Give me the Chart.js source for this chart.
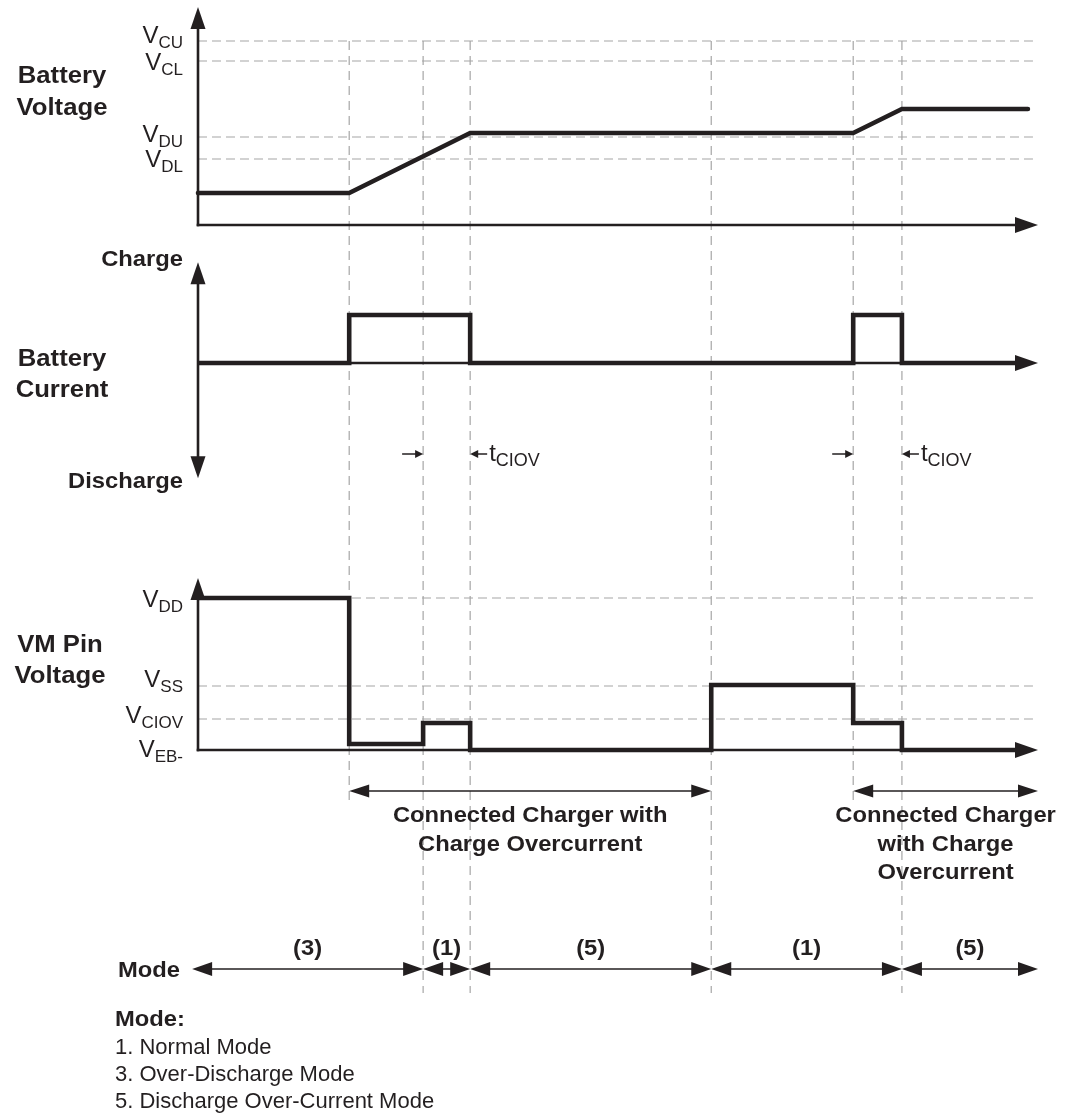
<!DOCTYPE html>
<html>
<head>
<meta charset="utf-8">
<script src="https://cdn.jsdelivr.net/npm/chart.js@4.4.1/dist/chart.umd.min.js"></script>
<style>
  html, body { margin: 0; padding: 0; background: #ffffff; }
  #wrap { position: relative; width: 1065px; height: 1120px; }
  canvas { display: block; }
</style>
</head>
<body>
<div id="wrap"><canvas id="c" width="1065" height="1120" style="width:1065px;height:1120px"></canvas></div>
<script>
// ---------------- DATA (time in arbitrary units along the shared x axis) ----------------
const eventTimes = [18.0, 26.8, 32.4, 61.1, 78.0, 83.8];

// Battery voltage (arbitrary level units)
const batteryVoltageTimes  = [0, 18.0, 32.4, 78.0, 83.8, 98.8];
const batteryVoltageValues = [1.6, 1.6, 4.6, 4.6, 5.8, 5.8];
const batteryVoltageLevels = [9.2, 8.2, 4.4, 3.3];
const batteryVoltageLevelMain = ['V', 'V', 'V', 'V'];
const batteryVoltageLevelSub  = ['CU', 'CL', 'DU', 'DL'];

// Battery current (charge positive, discharge negative)
const batteryCurrentTimes  = [0, 18.0, 32.4, 78.0, 83.8, 97.5];
const batteryCurrentValues = [0, 1, 0, 1, 0, 0];

// VM pin voltage
const vmTimes  = [0, 18.0, 26.8, 32.4, 61.1, 78.0, 83.8, 97.5];
const vmValues = [7.6, 0.3, 1.35, 0, 3.25, 1.35, 0, 0];
const vmLevels = [7.6, 3.2, 1.55, 0];
const vmLevelMain = ['V', 'V', 'V', 'V'];
const vmLevelSub  = ['DD', 'SS', 'CIOV', 'EB-'];

// Annotations
const tciovStarts = [26.8, 78.0];
const tciovEnds   = [32.4, 83.8];
const chargerStarts = [18.0, 78.0];
const chargerEnds   = [61.1, 100];
const chargerText = [
  ['Connected Charger with', 'Charge Overcurrent'],
  ['Connected Charger', 'with Charge', 'Overcurrent']
];
const modeBounds = [-0.7, 26.8, 32.4, 61.1, 83.8, 100];
const modeLabels = ['(3)', '(1)', '(5)', '(1)', '(5)'];
const modeLegendTitle = 'Mode:';
const modeLegend = ['1. Normal Mode', '3. Over-Discharge Mode', '5. Discharge Over-Current Mode'];

// ---------------- LAYOUT / STYLE ----------------
const FONT = '"Liberation Sans", Arial, Helvetica, sans-serif';
const INK = '#231f20';
const GRID = '#a6a6a6';
const H = 1120;
const L = {
  volt: { zeroPx: 225, ppu: 20, arrowTop: 10.9 },
  curr: { zeroPx: 363, ppu: 48, arrowTop: 2.1, arrowBottom: -2.4 },
  vm:   { zeroPx: 750, ppu: 20, arrowTop: 8.6 },
  xMax: 100, levelLineEnd: 99.4,
  labelRight: 183, titleCenter: 62,
  voltLabelDy: [2, 9, 5, 8],
  vmLabelDy: [9, 1, 4, 7],
  tciovY: 454,
  chargerY: 791, chargerLineEnd: 803,
  modeY: 969, modeLineEnd: 993,
  sx: 1.0, bsx: 1.08
};
function rangeFor(p) { return { min: (p.zeroPx - H) / p.ppu, max: p.zeroPx / p.ppu }; }

function seg(ctx, x1, y1, x2, y2) { ctx.beginPath(); ctx.moveTo(x1, y1); ctx.lineTo(x2, y2); ctx.stroke(); }
function head(ctx, tx, ty, dx, dy, len, half) {
  const bx = tx - dx * len, by = ty - dy * len;
  const nx = -dy, ny = dx;
  ctx.beginPath();
  ctx.moveTo(tx, ty);
  ctx.lineTo(bx + nx * half, by + ny * half);
  ctx.lineTo(bx - nx * half, by - ny * half);
  ctx.closePath();
  ctx.fill();
}
function txt(ctx, s, x, y, size, weight, align, sx) {
  ctx.save();
  ctx.font = `${weight} ${size}px ${FONT}`;
  ctx.textAlign = align;
  ctx.textBaseline = 'alphabetic';
  ctx.translate(x, y);
  ctx.scale(sx, 1);
  ctx.fillText(s, 0, 0);
  ctx.restore();
}
function width(ctx, s, size, weight, sx) {
  ctx.save(); ctx.font = `${weight} ${size}px ${FONT}`;
  const w = ctx.measureText(s).width * sx; ctx.restore(); return w;
}
// main letter + subscript, right aligned at xr, main baseline yb
function subRight(ctx, main, sub, xr, yb, ms, ss) {
  const ws = width(ctx, sub, ss, 'normal', L.sx);
  txt(ctx, sub, xr, yb + 5, ss, 'normal', 'right', L.sx);
  txt(ctx, main, xr - ws, yb, ms, 'normal', 'right', L.sx);
}
function subLeft(ctx, main, sub, xl, yb, ms, ss) {
  const wm = width(ctx, main, ms, 'normal', L.sx);
  txt(ctx, main, xl, yb, ms, 'normal', 'left', L.sx);
  txt(ctx, sub, xl + wm, yb + 5, ss, 'normal', 'left', L.sx);
}

const diagram = {
  id: 'diagram',
  beforeDatasetsDraw(chart) {
    const { ctx, scales: { x, yV, yI, yM } } = chart;
    const X = v => x.getPixelForValue(v);
    const x0 = X(0), xEnd = X(L.xMax);
    ctx.save();
    // dashed level lines
    ctx.strokeStyle = GRID; ctx.lineWidth = 1.2; ctx.setLineDash([9, 5]);
    batteryVoltageLevels.forEach(v => { const y = yV.getPixelForValue(v); seg(ctx, x0, y, X(L.levelLineEnd), y); });
    vmLevels.filter(v => v !== 0).forEach(v => { const y = yM.getPixelForValue(v); seg(ctx, x0, y, X(L.levelLineEnd), y); });
    // dashed event lines
    ctx.setLineDash([9, 6]);
    const gridTop = yV.getPixelForValue(batteryVoltageLevels[0]);
    eventTimes.forEach(t => {
      const end = modeBounds.includes(t) ? L.modeLineEnd : L.chargerLineEnd;
      seg(ctx, X(t), gridTop, X(t), end);
    });
    ctx.setLineDash([]);
    // axes
    ctx.strokeStyle = INK; ctx.lineWidth = 2.6; ctx.lineCap = 'butt';
    const vz = yV.getPixelForValue(0);
    seg(ctx, x0, yV.getPixelForValue(L.volt.arrowTop) + 15, x0, vz + 1.3);
    seg(ctx, x0 - 1.3, vz, xEnd - 15, vz);
    const iz = yI.getPixelForValue(0);
    seg(ctx, x0, yI.getPixelForValue(L.curr.arrowTop) + 15, x0, yI.getPixelForValue(L.curr.arrowBottom) - 15);
    seg(ctx, x0, iz, xEnd - 15, iz);
    const mz = yM.getPixelForValue(0);
    seg(ctx, x0, yM.getPixelForValue(L.vm.arrowTop) + 15, x0, mz + 1.3);
    seg(ctx, x0 - 1.3, mz, xEnd - 15, mz);
    ctx.restore();
  },
  afterDatasetsDraw(chart) {
    const { ctx, scales: { x, yV, yI, yM } } = chart;
    const X = v => x.getPixelForValue(v);
    const x0 = X(0), xEnd = X(L.xMax);
    ctx.save();
    ctx.fillStyle = INK; ctx.strokeStyle = INK;
    // axis arrowheads
    head(ctx, x0, yV.getPixelForValue(L.volt.arrowTop), 0, -1, 22, 7.5);
    head(ctx, xEnd, yV.getPixelForValue(0), 1, 0, 23, 8);
    head(ctx, x0, yI.getPixelForValue(L.curr.arrowTop), 0, -1, 22, 7.5);
    head(ctx, x0, yI.getPixelForValue(L.curr.arrowBottom), 0, 1, 22, 7.5);
    head(ctx, xEnd, yI.getPixelForValue(0), 1, 0, 23, 8);
    head(ctx, x0, yM.getPixelForValue(L.vm.arrowTop), 0, -1, 22, 7.5);
    head(ctx, xEnd, yM.getPixelForValue(0), 1, 0, 23, 8);

    // level labels
    batteryVoltageLevels.forEach((v, i) => {
      subRight(ctx, batteryVoltageLevelMain[i], batteryVoltageLevelSub[i], L.labelRight,
        yV.getPixelForValue(v) + L.voltLabelDy[i], 24, 17);
    });
    vmLevels.forEach((v, i) => {
      subRight(ctx, vmLevelMain[i], vmLevelSub[i], L.labelRight,
        yM.getPixelForValue(v) + L.vmLabelDy[i], 24, 17);
    });

    // panel titles
    const tc = L.titleCenter;
    txt(ctx, 'Battery', tc, yV.getPixelForValue(0) - 142, 24, 'bold', 'center', 1.07);
    txt(ctx, 'Voltage', tc, yV.getPixelForValue(0) - 110, 24, 'bold', 'center', 1.07);
    const iz = yI.getPixelForValue(0);
    txt(ctx, 'Battery', tc, iz + 3, 24, 'bold', 'center', 1.07);
    txt(ctx, 'Current', tc, iz + 34, 24, 'bold', 'center', 1.07);
    txt(ctx, 'Charge', L.labelRight, yI.getPixelForValue(L.curr.arrowTop) + 4, 22, 'bold', 'right', L.bsx);
    txt(ctx, 'Discharge', L.labelRight, yI.getPixelForValue(L.curr.arrowBottom) + 10, 22, 'bold', 'right', L.bsx);
    const mz = yM.getPixelForValue(0);
    txt(ctx, 'VM Pin', tc - 2, mz - 98, 24, 'bold', 'center', 1.07);
    txt(ctx, 'Voltage', tc - 2, mz - 67, 24, 'bold', 'center', 1.07);

    // tCIOV markers
    ctx.lineWidth = 1.5;
    tciovStarts.forEach((a, i) => {
      const xa = X(a), xb = X(tciovEnds[i]), y = L.tciovY;
      seg(ctx, xa - 21, y, xa - 5, y); head(ctx, xa, y, 1, 0, 8, 4);
      seg(ctx, xb + 17, y, xb + 5, y); head(ctx, xb, y, -1, 0, 8, 4);
      subLeft(ctx, 't', 'CIOV', xb + 19, y + 7, 24, 18);
    });

    // charger spans
    chargerStarts.forEach((a, i) => {
      const xa = X(a), xb = X(chargerEnds[i]), y = L.chargerY;
      seg(ctx, xa + 15, y, xb - 15, y);
      head(ctx, xa, y, -1, 0, 20, 6.5); head(ctx, xb, y, 1, 0, 20, 6.5);
      const cx = (xa + xb) / 2;
      chargerText[i].forEach((s, k) => txt(ctx, s, cx, y + 31 + k * 28.5, 22, 'bold', 'center', L.bsx));
    });

    // mode row
    const my = L.modeY;
    txt(ctx, 'Mode', 118, my + 8, 22, 'bold', 'left', L.bsx);
    for (let i = 0; i < modeLabels.length; i++) {
      const xa = X(modeBounds[i]), xb = X(modeBounds[i + 1]);
      seg(ctx, xa + 12, my, xb - 12, my);
      head(ctx, xa, my, -1, 0, 20, 7); head(ctx, xb, my, 1, 0, 20, 7);
      txt(ctx, modeLabels[i], (xa + xb) / 2, my - 14, 22, 'bold', 'center', L.bsx);
    }

    // legend
    txt(ctx, modeLegendTitle, 115, 1026, 22, 'bold', 'left', L.bsx);
    modeLegend.forEach((s, k) => txt(ctx, s, 115, 1054 + k * 27, 22, 'normal', 'left', 1.0));
    ctx.restore();
  }
};

const pts = (ts, vs) => ts.map((t, i) => ({ x: t, y: vs[i] }));

new Chart(document.getElementById('c').getContext('2d'), {
  type: 'line',
  data: {
    datasets: [
      { label: 'Battery Voltage', data: pts(batteryVoltageTimes, batteryVoltageValues), yAxisID: 'yV',
        borderCapStyle: 'round', clip: false },
      { label: 'Battery Current', data: pts(batteryCurrentTimes, batteryCurrentValues), yAxisID: 'yI',
        stepped: true, clip: false },
      { label: 'VM Pin Voltage', data: pts(vmTimes, vmValues), yAxisID: 'yM',
        stepped: true, clip: false }
    ]
  },
  options: {
    responsive: false,
    animation: false,
    devicePixelRatio: 1,
    layout: { padding: { left: 198, right: 27, top: 0, bottom: 0 } },
    plugins: { legend: { display: false }, tooltip: { enabled: false } },
    elements: {
      line: { borderColor: INK, borderWidth: 4.6, tension: 0, borderJoinStyle: 'miter', fill: false },
      point: { radius: 0, hoverRadius: 0 }
    },
    scales: {
      x: { type: 'linear', min: 0, max: L.xMax, display: false },
      yV: { type: 'linear', display: false, ...rangeFor(L.volt) },
      yI: { type: 'linear', display: false, ...rangeFor(L.curr) },
      yM: { type: 'linear', display: false, ...rangeFor(L.vm) }
    }
  },
  plugins: [diagram]
});
</script>
</body>
</html>
